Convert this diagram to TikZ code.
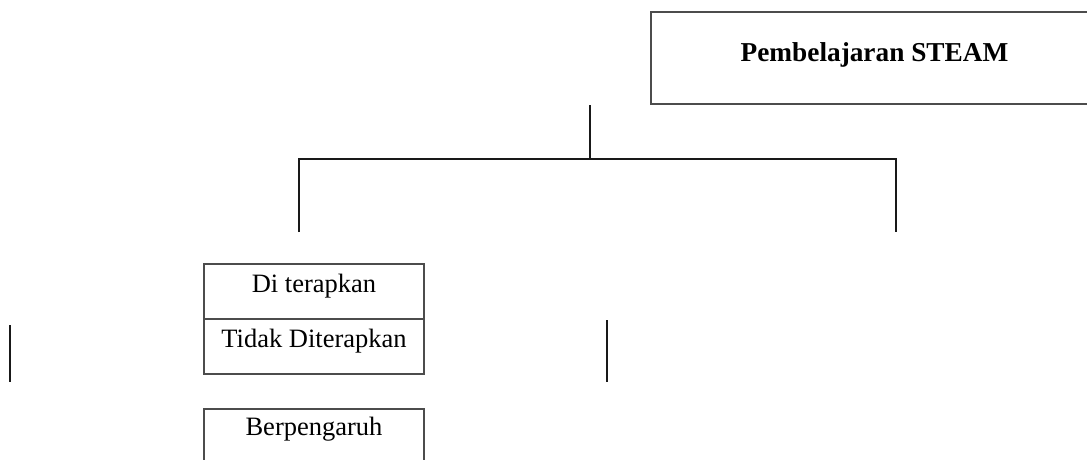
\documentclass[tikz,border=0pt]{standalone}
\usepackage{fontspec}
\setmainfont{Liberation Serif}
\begin{document}
\begin{tikzpicture}[x=1pt,y=-1pt,
  boxshape/.style={draw=black!70, line width=1.3pt, rectangle, inner sep=0pt},
  lbl/.style={inner sep=0pt, anchor=base, font=\fontsize{26.5}{30}\selectfont},
  conn/.style={draw=black!90, line width=2.2pt}]
\useasboundingbox (0,0) rectangle (1087,459);
% title box (extends past right edge)
\node[boxshape, minimum width=447pt, minimum height=92pt] (steam) at (874.5,58) {};
\node[lbl, font=\fontsize{27.3}{31}\selectfont\bfseries] (steamtxt) at (874.5,61) {Pembelajaran STEAM};
% left boxes
\node[boxshape, minimum width=220pt, minimum height=55pt] (di) at (314,291.5) {};
\node[boxshape, minimum width=220pt, minimum height=55pt] (tidak) at (314,346.5) {};
\node[boxshape, minimum width=220pt, minimum height=62pt] (berp) at (314,440) {};
\node[lbl] (ditxt) at (314,292) {Di terapkan};
\node[lbl] (tidaktxt) at (314,347) {Tidak Diterapkan};
\node[lbl] (berptxt) at (314,435) {Berpengaruh};
% connectors
\coordinate (t1) at (590,105);
\coordinate (t2) at (590,159);
\coordinate (hl) at (299,159);
\coordinate (hr) at (896,159);
\coordinate (l2) at (299,232);
\coordinate (r2) at (896,232);
\coordinate (a1) at (10,325);
\coordinate (a2) at (10,382);
\coordinate (m1) at (607,320);
\coordinate (m2) at (607,382);
\draw[conn] (t1) -- (t2);
\draw[conn] (l2) -- (hl) -- (hr) -- (r2);
\draw[conn] (a1) -- (a2);
\draw[conn] (m1) -- (m2);
\end{tikzpicture}
\end{document}
